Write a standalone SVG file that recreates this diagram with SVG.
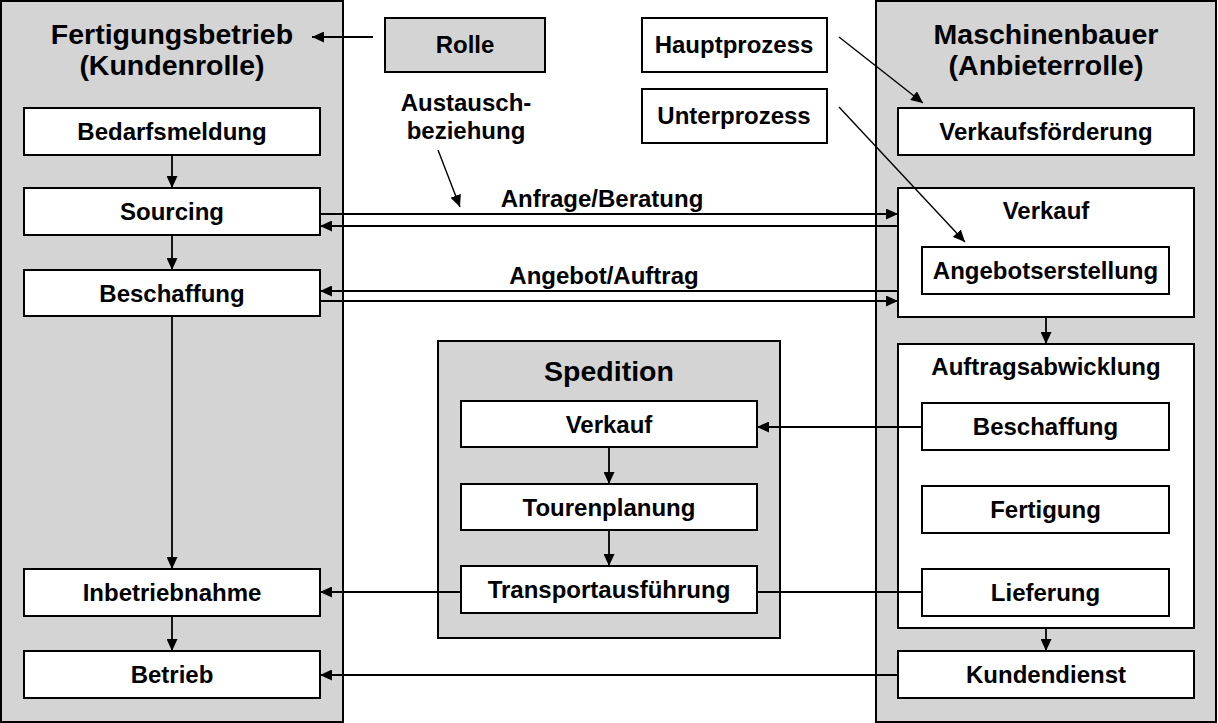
<svg xmlns="http://www.w3.org/2000/svg" width="1218" height="723" viewBox="0 0 1218 723">
<style>
.panel{fill:#d4d4d4;stroke:#000;stroke-width:2}
.box{fill:#fff;stroke:#000;stroke-width:2}
.gbox{fill:#d4d4d4;stroke:#000;stroke-width:2}
text{font-family:"Liberation Sans",Arial,sans-serif;font-weight:bold;fill:#000;text-anchor:middle}
.t{font-size:24px}
.h{font-size:28.5px}
.c{stroke:#000;stroke-width:1.8;fill:none}
.d{stroke:#000;stroke-width:1.4;fill:none}
</style>
<defs>
<marker id="ah" markerUnits="userSpaceOnUse" markerWidth="12" markerHeight="11" refX="12" refY="5.5" orient="auto">
<path d="M0,0 L12,5.5 L0,11 z" fill="#000"/>
</marker>
</defs>
<rect width="1218" height="723" fill="#fff"/>

<g id="fertigungsbetrieb">
<rect class="panel" x="1" y="1" width="342" height="721"/>
<text class="h" x="172" y="44">Fertigungsbetrieb</text>
<text class="h" x="172" y="75">(Kundenrolle)</text>
</g>
<g id="bedarfsmeldung"><rect class="box" x="24" y="108" width="296" height="47"/><text class="t" x="172" y="140">Bedarfsmeldung</text></g>
<g id="sourcing"><rect class="box" x="24" y="188" width="296" height="47"/><text class="t" x="172" y="220">Sourcing</text></g>
<g id="beschaffung-kunde"><rect class="box" x="24" y="270" width="296" height="46"/><text class="t" x="172" y="302">Beschaffung</text></g>
<g id="inbetriebnahme"><rect class="box" x="24" y="569" width="296" height="47"/><text class="t" x="172" y="601">Inbetriebnahme</text></g>
<g id="betrieb"><rect class="box" x="24" y="651" width="296" height="47"/><text class="t" x="172" y="683">Betrieb</text></g>

<g id="legende-rolle"><rect class="gbox" x="385" y="18" width="160" height="54"/><text class="t" x="465" y="53">Rolle</text></g>
<g id="legende-austausch"><text class="t" x="466" y="111">Austausch-</text><text class="t" x="466" y="139">beziehung</text></g>
<g id="legende-hauptprozess"><rect class="box" x="642" y="18" width="185" height="54"/><text class="t" x="734" y="53">Hauptprozess</text></g>
<g id="legende-unterprozess"><rect class="box" x="642" y="89" width="185" height="54"/><text class="t" x="734" y="124">Unterprozess</text></g>

<g id="maschinenbauer">
<rect class="panel" x="876" y="1" width="340" height="721"/>
<text class="h" x="1046" y="44">Maschinenbauer</text>
<text class="h" x="1046" y="75">(Anbieterrolle)</text>
</g>
<g id="verkaufsfoerderung"><rect class="box" x="898" y="108" width="296" height="47"/><text class="t" x="1046" y="140">Verkaufsförderung</text></g>
<g id="verkauf-mb"><rect class="box" x="898" y="188" width="296" height="129"/><text class="t" x="1046" y="219">Verkauf</text></g>
<g id="angebotserstellung"><rect class="box" x="922" y="247" width="247" height="47"/><text class="t" x="1045.5" y="279">Angebotserstellung</text></g>
<g id="auftragsabwicklung"><rect class="box" x="898" y="344" width="296" height="284"/><text class="t" x="1046" y="375">Auftragsabwicklung</text></g>
<g id="beschaffung-mb"><rect class="box" x="922" y="403" width="247" height="47"/><text class="t" x="1045.5" y="435">Beschaffung</text></g>
<g id="fertigung"><rect class="box" x="922" y="486" width="247" height="47"/><text class="t" x="1045.5" y="518">Fertigung</text></g>
<g id="lieferung"><rect class="box" x="922" y="569" width="247" height="47"/><text class="t" x="1045.5" y="601">Lieferung</text></g>
<g id="kundendienst"><rect class="box" x="898" y="651" width="296" height="47"/><text class="t" x="1046" y="683">Kundendienst</text></g>

<g id="spedition">
<rect class="panel" x="438" y="341" width="342" height="297"/>
<text class="h" x="609" y="381">Spedition</text>
</g>
<g id="verkauf-sp"><rect class="box" x="461" y="401" width="296" height="46"/><text class="t" x="609" y="433">Verkauf</text></g>
<g id="tourenplanung"><rect class="box" x="461" y="484" width="296" height="46"/><text class="t" x="609" y="516">Tourenplanung</text></g>
<g id="transportausfuehrung"><rect class="box" x="461" y="566" width="296" height="47"/><text class="t" x="609" y="598">Transportausführung</text></g>

<g id="connectors">
<line class="c" x1="373" y1="37" x2="312" y2="37" marker-end="url(#ah)"/>
<line class="d" x1="438" y1="150" x2="460" y2="207" marker-end="url(#ah)"/>
<line class="d" x1="839" y1="37" x2="923" y2="103" marker-end="url(#ah)"/>
<line class="d" x1="839" y1="107" x2="965" y2="242" marker-end="url(#ah)"/>

<line class="c" x1="172" y1="155" x2="172" y2="188" marker-end="url(#ah)"/>
<line class="c" x1="172" y1="235" x2="172" y2="270" marker-end="url(#ah)"/>
<line class="c" x1="172" y1="316" x2="172" y2="569" marker-end="url(#ah)"/>
<line class="c" x1="172" y1="616" x2="172" y2="651" marker-end="url(#ah)"/>

<line class="c" x1="320" y1="214" x2="898" y2="214" marker-end="url(#ah)"/>
<line class="c" x1="898" y1="226" x2="320" y2="226" marker-end="url(#ah)"/>
<line class="c" x1="898" y1="291" x2="320" y2="291" marker-end="url(#ah)"/>
<line class="c" x1="320" y1="301" x2="898" y2="301" marker-end="url(#ah)"/>

<line class="c" x1="609" y1="447" x2="609" y2="484" marker-end="url(#ah)"/>
<line class="c" x1="609" y1="530" x2="609" y2="566" marker-end="url(#ah)"/>

<line class="c" x1="922" y1="427" x2="757" y2="427" marker-end="url(#ah)"/>
<line class="c" x1="922" y1="592" x2="757" y2="592"/>
<line class="c" x1="461" y1="592" x2="320" y2="592" marker-end="url(#ah)"/>
<line class="c" x1="898" y1="675" x2="320" y2="675" marker-end="url(#ah)"/>

<line class="c" x1="1046" y1="317" x2="1046" y2="344" marker-end="url(#ah)"/>
<line class="c" x1="1046" y1="628" x2="1046" y2="651" marker-end="url(#ah)"/>
</g>

<g id="connector-labels">
<text class="t" x="602" y="207">Anfrage/Beratung</text>
<text class="t" x="604" y="284">Angebot/Auftrag</text>
</g>
</svg>
